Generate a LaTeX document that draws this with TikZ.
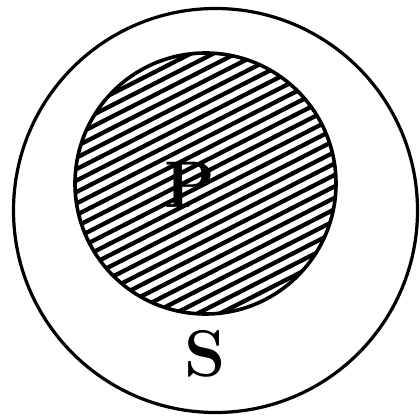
\documentclass[tikz,border=0pt]{standalone}
\begin{document}
\begin{tikzpicture}[x=1pt,y=1pt,
  ring/.style={circle,draw=black,line width=3.2pt,inner sep=0pt},
  hatchline/.style={line width=4.3pt,black},
  letter/.style={font=\fontsize{66}{66}\selectfont\bfseries,inner sep=0pt}]
\useasboundingbox (0,0) rectangle (420,416);
\fill[white] (0,0) rectangle (420,416);
\node[ring,minimum size=404pt] (S) at (215.5,205.5) {};
\begin{scope}
  \clip (205.5,232.5) circle (130.5);
  \begin{scope}[shift={(205.5,232.5)},rotate=27]
    \foreach \k in {-14,...,14} {
      \draw[hatchline] (-160,\k*10.2) -- (160,\k*10.2);
    }
  \end{scope}
\end{scope}
\node[ring,line width=3.6pt,minimum size=261pt] (P) at (205.5,232.5) {};
\node[letter] (pl) at (190,231) {P};
\node[letter] (sl) at (205,62) {S};
\end{tikzpicture}
\end{document}
